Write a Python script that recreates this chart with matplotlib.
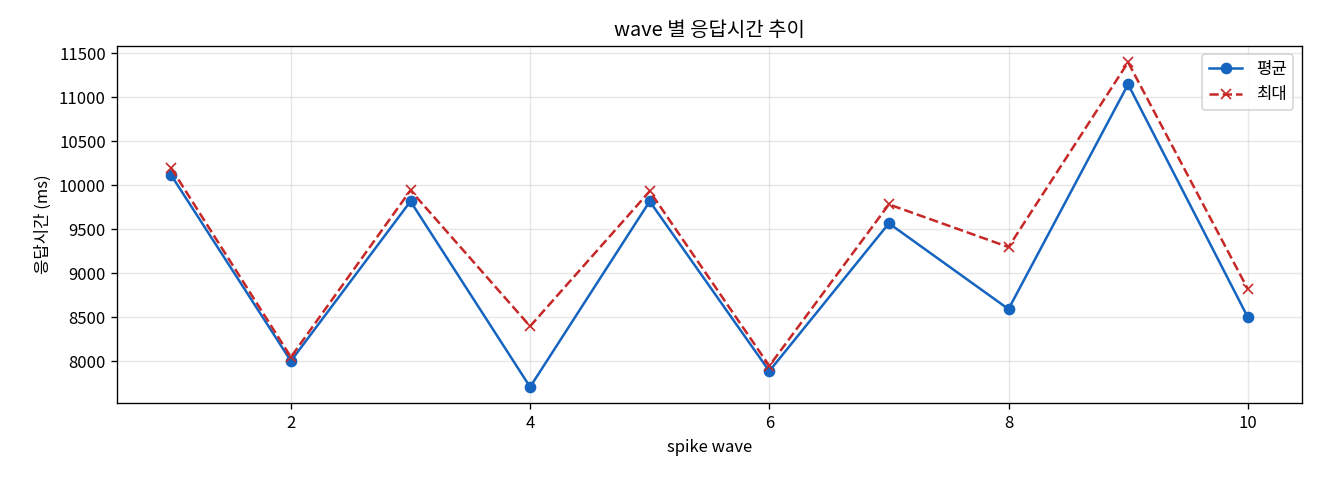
import matplotlib
matplotlib.use('Agg')
import matplotlib.pyplot as plt

plt.rcParams['font.family'] = ['Noto Sans CJK KR', 'DejaVu Sans']
plt.rcParams['axes.unicode_minus'] = False

# wave 별 응답시간 (ms)
waves = [1, 2, 3, 4, 5, 6, 7, 8, 9, 10]
avg_ms = [10110, 8000, 9815, 7705, 9815, 7885, 9565, 8590, 11145, 8500]
max_ms = [10190, 8045, 9940, 8395, 9930, 7945, 9780, 9295, 11395, 8820]

fig, ax = plt.subplots(figsize=(11, 4), dpi=120)
ax.plot(waves, avg_ms, color='#1565C0', marker='o', linestyle='-', label='평균')
ax.plot(waves, max_ms, color='#C62828', marker='x', linestyle='--', label='최대')

ax.set_title('wave 별 응답시간 추이')
ax.set_xlabel('spike wave')
ax.set_ylabel('응답시간 (ms)')
ax.grid(True, alpha=0.3)
ax.legend(loc='upper right')

fig.subplots_adjust(left=0.089, right=0.986, top=0.904, bottom=0.16)
plt.savefig('out.png')
